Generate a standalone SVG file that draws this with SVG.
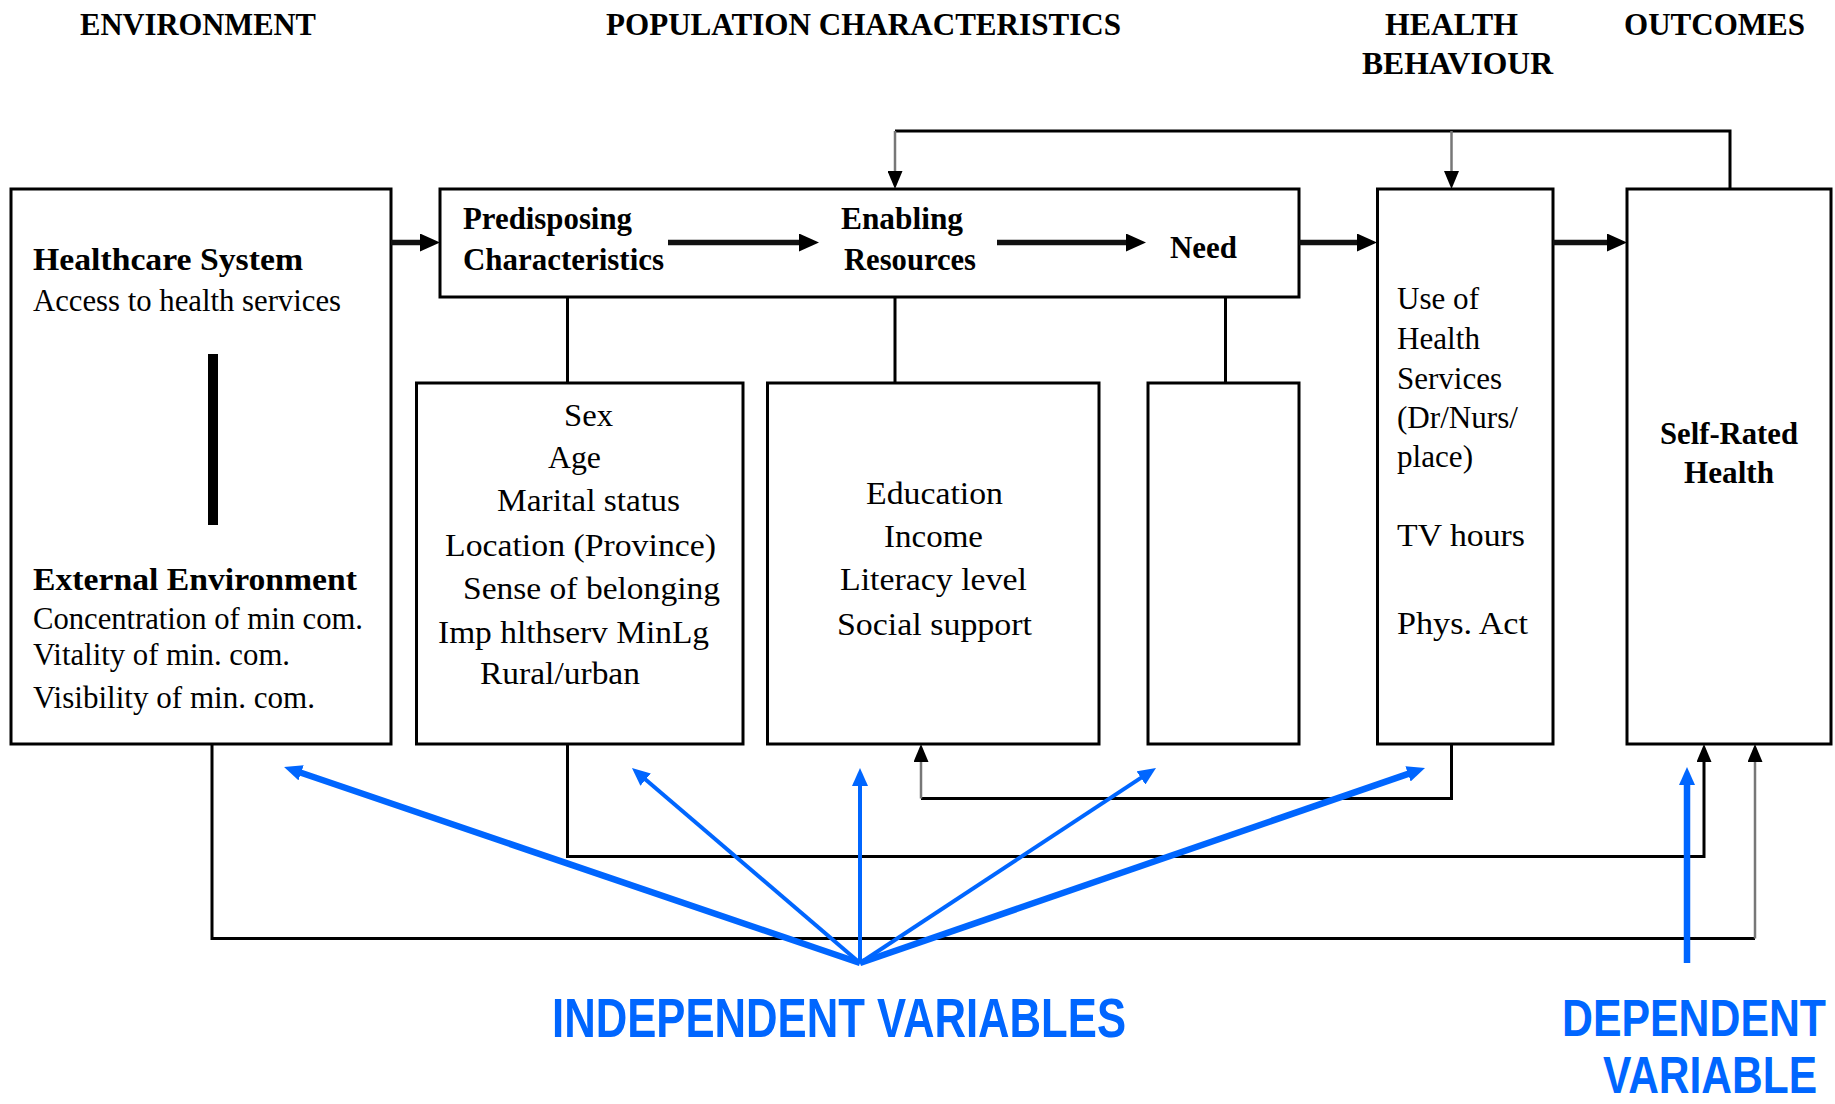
<svg xmlns="http://www.w3.org/2000/svg" width="1835" height="1104" viewBox="0 0 1835 1104">
<style>
.box{fill:#fff;stroke:#000;stroke-width:3}
.hd{font-family:"Liberation Serif","Times New Roman",serif;font-weight:bold;font-size:32px;fill:#000}
.t{font-family:"Liberation Serif","Times New Roman",serif;font-size:31px;fill:#000}
.b{font-family:"Liberation Serif","Times New Roman",serif;font-size:31px;font-weight:bold;fill:#000}
.ln{fill:none;stroke:#000;stroke-width:3}
.gl{fill:none;stroke:#777;stroke-width:2.5}
.thick{fill:none;stroke:#111;stroke-width:5.5}
.bthin{fill:none;stroke:#0066ff;stroke-width:4}
.bthick{fill:none;stroke:#0066ff;stroke-width:6.5}
.bt{font-family:"Liberation Sans",Arial,sans-serif;font-weight:bold;font-size:55px;fill:#0066ff}
.bd{font-family:"Liberation Sans",Arial,sans-serif;font-weight:bold;font-size:51px;fill:#0066ff}
</style>
<defs>
<marker id="ak" viewBox="0 0 20 18" refX="4" refY="9" markerWidth="20" markerHeight="18" markerUnits="userSpaceOnUse" orient="auto"><path d="M0,0 L20,9 L0,18 z" fill="#000"/></marker>
<marker id="as" viewBox="0 0 18 15" refX="4" refY="7.5" markerWidth="18" markerHeight="15" markerUnits="userSpaceOnUse" orient="auto"><path d="M0,0 L18,7.5 L0,15 z" fill="#000"/></marker>
<marker id="ab" viewBox="0 0 18 16" refX="4" refY="8" markerWidth="18" markerHeight="16" markerUnits="userSpaceOnUse" orient="auto"><path d="M0,0 L18,8 L0,16 z" fill="#0066ff"/></marker>
</defs>
<rect width="1835" height="1104" fill="#fff"/>

<g id="headers">
<text class="hd" x="80" y="35" textLength="236" lengthAdjust="spacingAndGlyphs">ENVIRONMENT</text>
<text class="hd" x="606" y="35" textLength="515" lengthAdjust="spacingAndGlyphs">POPULATION CHARACTERISTICS</text>
<text class="hd" x="1385" y="35" textLength="133" lengthAdjust="spacingAndGlyphs">HEALTH</text>
<text class="hd" x="1362" y="74" textLength="191" lengthAdjust="spacingAndGlyphs">BEHAVIOUR</text>
<text class="hd" x="1624" y="35" textLength="181" lengthAdjust="spacingAndGlyphs">OUTCOMES</text>
</g>

<g id="environment">
<rect class="box" x="11" y="189" width="380" height="555"/>
<text class="b" x="33" y="270" textLength="270" lengthAdjust="spacingAndGlyphs">Healthcare System</text>
<text class="t" x="33" y="311" textLength="308" lengthAdjust="spacingAndGlyphs">Access to health services</text>
<rect x="208" y="354" width="10" height="171" fill="#000"/>
<text class="b" x="33" y="590" textLength="324" lengthAdjust="spacingAndGlyphs">External Environment</text>
<text class="t" x="33" y="629" textLength="330" lengthAdjust="spacingAndGlyphs">Concentration of min com.</text>
<text class="t" x="33" y="665" textLength="257" lengthAdjust="spacingAndGlyphs">Vitality of min. com.</text>
<text class="t" x="33" y="708" textLength="282" lengthAdjust="spacingAndGlyphs">Visibility of min. com.</text>
</g>

<g id="population">
<rect class="box" x="440" y="189" width="859" height="108"/>
<text class="b" x="463" y="229" textLength="169" lengthAdjust="spacingAndGlyphs">Predisposing</text>
<text class="b" x="463" y="270" textLength="201" lengthAdjust="spacingAndGlyphs">Characteristics</text>
<text class="b" x="841" y="229" textLength="122" lengthAdjust="spacingAndGlyphs">Enabling</text>
<text class="b" x="844" y="270" textLength="132" lengthAdjust="spacingAndGlyphs">Resources</text>
<text class="b" x="1170" y="258" textLength="67" lengthAdjust="spacingAndGlyphs">Need</text>
</g>

<g id="predisposing">
<rect class="box" x="416.5" y="383" width="326.5" height="361"/>
<text class="t" x="564" y="426" textLength="49" lengthAdjust="spacingAndGlyphs">Sex</text>
<text class="t" x="548" y="468" textLength="53" lengthAdjust="spacingAndGlyphs">Age</text>
<text class="t" x="497" y="511" textLength="183" lengthAdjust="spacingAndGlyphs">Marital status</text>
<text class="t" x="445" y="556" textLength="271" lengthAdjust="spacingAndGlyphs">Location (Province)</text>
<text class="t" x="463" y="599" textLength="257" lengthAdjust="spacingAndGlyphs">Sense of belonging</text>
<text class="t" x="438" y="643" textLength="271" lengthAdjust="spacingAndGlyphs">Imp hlthserv MinLg</text>
<text class="t" x="480" y="684" textLength="160" lengthAdjust="spacingAndGlyphs">Rural/urban</text>
</g>

<g id="enabling">
<rect class="box" x="767.5" y="383" width="331.5" height="361"/>
<text class="t" x="866" y="504" textLength="137" lengthAdjust="spacingAndGlyphs">Education</text>
<text class="t" x="884" y="547" textLength="99" lengthAdjust="spacingAndGlyphs">Income</text>
<text class="t" x="840" y="590" textLength="187" lengthAdjust="spacingAndGlyphs">Literacy level</text>
<text class="t" x="837" y="635" textLength="195" lengthAdjust="spacingAndGlyphs">Social support</text>
</g>

<g id="need">
<rect class="box" x="1148" y="383" width="151" height="361"/>
</g>

<g id="health-behaviour">
<rect class="box" x="1377.5" y="189" width="175.5" height="555"/>
<text class="t" x="1397" y="309" textLength="82" lengthAdjust="spacingAndGlyphs">Use of</text>
<text class="t" x="1397" y="349" textLength="83" lengthAdjust="spacingAndGlyphs">Health</text>
<text class="t" x="1397" y="389" textLength="105" lengthAdjust="spacingAndGlyphs">Services</text>
<text class="t" x="1397" y="428" textLength="121" lengthAdjust="spacingAndGlyphs">(Dr/Nurs/</text>
<text class="t" x="1397" y="467" textLength="76" lengthAdjust="spacingAndGlyphs">place)</text>
<text class="t" x="1397" y="546" textLength="128" lengthAdjust="spacingAndGlyphs">TV hours</text>
<text class="t" x="1397" y="634" textLength="131" lengthAdjust="spacingAndGlyphs">Phys. Act</text>
</g>

<g id="outcomes">
<rect class="box" x="1627" y="189" width="204" height="555"/>
<text class="b" x="1660" y="444" textLength="138" lengthAdjust="spacingAndGlyphs">Self-Rated</text>
<text class="b" x="1684" y="483" textLength="90" lengthAdjust="spacingAndGlyphs">Health</text>
</g>

<g id="connectors">
<line class="thick" x1="391" y1="242.5" x2="424" y2="242.5" marker-end="url(#ak)"/>
<line class="thick" x1="668" y1="242.5" x2="803" y2="242.5" marker-end="url(#ak)"/>
<line class="thick" x1="997" y1="242.5" x2="1130" y2="242.5" marker-end="url(#ak)"/>
<line class="thick" x1="1299" y1="242.5" x2="1361" y2="242.5" marker-end="url(#ak)"/>
<line class="thick" x1="1553" y1="242.5" x2="1611" y2="242.5" marker-end="url(#ak)"/>
<line class="ln" x1="567.5" y1="297" x2="567.5" y2="383"/>
<line class="ln" x1="895" y1="297" x2="895" y2="383"/>
<line class="ln" x1="1225.5" y1="297" x2="1225.5" y2="383"/>
<polyline class="ln" points="1730,189 1730,131 895,131"/>
<line class="gl" x1="895" y1="131" x2="895" y2="175" marker-end="url(#as)"/>
<line class="gl" x1="1451.5" y1="131" x2="1451.5" y2="175" marker-end="url(#as)"/>
<polyline class="ln" points="1451.5,744 1451.5,798.5 921,798.5"/>
<line class="gl" x1="921" y1="798.5" x2="921" y2="758" marker-end="url(#as)"/>
<polyline class="ln" points="567.5,744 567.5,856.5 1704,856.5 1704,758" marker-end="url(#as)"/>
<polyline class="ln" points="212,744 212,938.5 1755,938.5"/>
<line class="gl" x1="1755" y1="938.5" x2="1755" y2="758" marker-end="url(#as)"/>
<line class="bthick" x1="860" y1="963" x2="297.3" y2="771.5" marker-end="url(#ab)"/>
<line class="bthin" x1="860" y1="963" x2="642.6" y2="777.1" marker-end="url(#ab)"/>
<line class="bthin" x1="860" y1="963" x2="860" y2="782" marker-end="url(#ab)"/>
<line class="bthin" x1="860" y1="963" x2="1144.3" y2="775.7" marker-end="url(#ab)"/>
<line class="bthick" x1="860" y1="963" x2="1411.8" y2="772.6" marker-end="url(#ab)"/>
<line class="bthick" x1="1687" y1="963" x2="1687" y2="781" stroke-width="5" marker-end="url(#ab)"/>
</g>

<g id="labels">
<text class="bt" transform="translate(552,1037) scale(0.79,1)" x="0" y="0" textLength="726.6" lengthAdjust="spacingAndGlyphs">INDEPENDENT VARIABLES</text>
<text class="bd" transform="translate(1562,1036) scale(0.84,1)" x="0" y="0" textLength="314.3" lengthAdjust="spacingAndGlyphs">DEPENDENT</text>
<text class="bd" transform="translate(1603,1093) scale(0.82,1)" x="0" y="0" textLength="261" lengthAdjust="spacingAndGlyphs">VARIABLE</text>
</g>
</svg>
